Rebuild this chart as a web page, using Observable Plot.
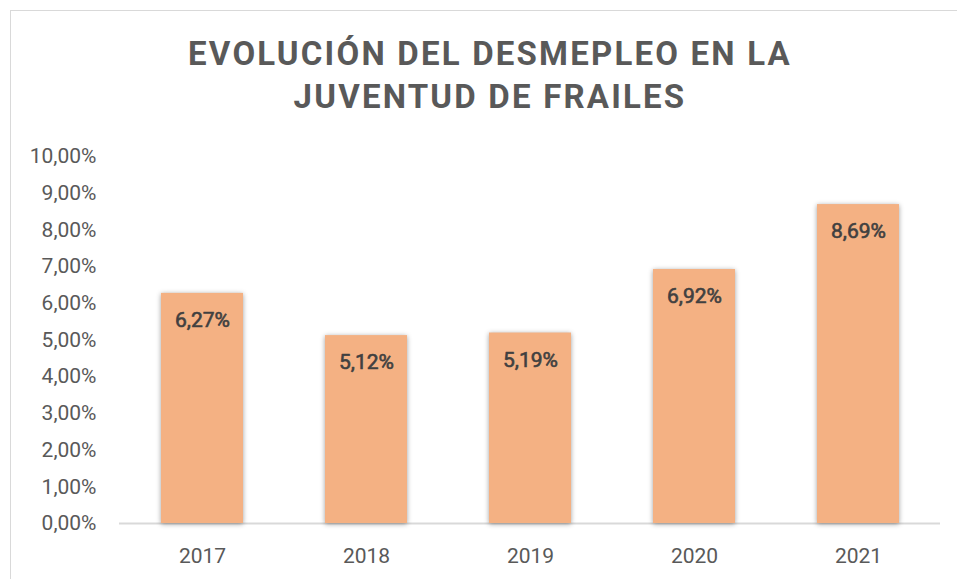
<!DOCTYPE html>
<html>
<head>
<meta charset="utf-8">
<script src="https://cdn.jsdelivr.net/npm/d3@7"></script>
<script src="https://cdn.jsdelivr.net/npm/@observablehq/plot@0.6"></script>
<style>
  html, body { margin: 0; padding: 0; background: #fff; }
  #wrap { position: relative; width: 957px; height: 579px; overflow: hidden; }
  #frame { position: absolute; left: 10px; top: 10px; width: 960px; height: 600px;
           border-left: 1.5px solid #d9d9d9; border-top: 1.5px solid #d9d9d9; }
  #title { position: absolute; left: 0; top: 0; width: 980px; height: 140px; text-align: center;
           font-family: Roboto, sans-serif; font-weight: 700; font-size: 33px;
           letter-spacing: 2.2px; color: #595959; line-height: 43px; padding-top: 32px; box-sizing: border-box; }
  #chart { position: absolute; left: 0; top: 140px; }
  #chart svg { overflow: visible; }
  .bars rect { filter: drop-shadow(0px 1px 2.5px rgba(0,0,0,0.38)); }
</style>
</head>
<body>
<div id="wrap">
  <div id="frame"></div>
  <div id="title">EVOLUCIÓN DEL DESMEPLEO EN LA<br>JUVENTUD DE FRAILES</div>
  <div id="chart"></div>
</div>
<script>
const years = ["2017", "2018", "2019", "2020", "2021"];
const rates = [6.27, 5.12, 5.19, 6.92, 8.69];
const yTicks = [0, 1, 2, 3, 4, 5, 6, 7, 8, 9, 10];

const data = years.map((y, i) => ({year: y, rate: rates[i]}));
const fmt = v => v.toFixed(2).replace(".", ",") + "%";

const chart = Plot.plot({
  width: 957,
  height: 439,
  marginTop: 16,
  marginBottom: 56,
  marginLeft: 119,
  marginRight: 17,
  style: {fontFamily: "Roboto, sans-serif", fontSize: "21px", color: "#595959", background: "transparent"},
  x: {domain: years, paddingInner: 0.5, paddingOuter: 0.25, label: null},
  y: {domain: [0, 10], label: null},
  marks: [
    Plot.ruleY([0], {stroke: "#d9d9d9", strokeWidth: 2}),
    Plot.barY(data, {x: "year", y: "rate", fill: "#F4B183", className: "bars"}),
    Plot.text(data, {x: "year", y: "rate", text: d => fmt(d.rate), dy: 27, fill: "#404040",
      fontSize: 21, stroke: "#404040", strokeWidth: 0.6}),
    Plot.axisY(yTicks, {tickSize: 0, tickPadding: 23, tickFormat: fmt, fill: "#595959", stroke: "#595959", strokeWidth: 0.7}),
    Plot.axisX({tickSize: 0, tickPadding: 25, fill: "#595959", fontSize: 21, stroke: "#595959", strokeWidth: 0.7})
  ]
});
document.getElementById("chart").appendChild(chart);
</script>
</body>
</html>
